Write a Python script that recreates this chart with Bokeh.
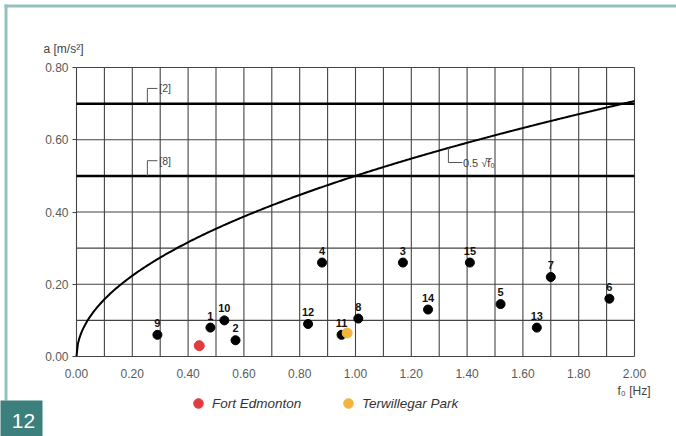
import numpy as np
from bokeh.plotting import figure
from bokeh.models import (Range1d, FixedTicker, Label, BoxAnnotation, Legend,
                          LegendItem, PrintfTickFormatter)
from bokeh.core.properties import value
from bokeh.embed import file_html
from bokeh.resources import INLINE

# ---- data ----
site_ids = ["9", "1", "10", "2", "12", "4", "11", "8", "3", "14", "15", "5", "13", "7", "6"]
site_f0 = [0.29, 0.48, 0.53, 0.57, 0.83, 0.88, 0.95, 1.01, 1.17, 1.26, 1.41, 1.52, 1.65, 1.70, 1.91]
site_acc = [0.06, 0.08, 0.10, 0.045, 0.09, 0.26, 0.06, 0.105, 0.26, 0.13, 0.26, 0.145, 0.08, 0.22, 0.16]

fort_f0 = [0.44]
fort_acc = [0.03]
terw_f0 = [0.97]
terw_acc = [0.065]

limit_ref2 = 0.70   # [2]
limit_ref8 = 0.50   # [8]
curve_coef = 0.5    # 0.5 * sqrt(f0)

x_ticks = [0.0, 0.2, 0.4, 0.6, 0.8, 1.0, 1.2, 1.4, 1.6, 1.8, 2.0]
y_ticks = [0.0, 0.2, 0.4, 0.6, 0.8]
x_grid = [i / 10 for i in range(21)]
y_grid = [i / 10 for i in range(9)]

FONT = "Liberation Sans"
GRID = "#444444"
TEAL = "#3b807d"
TEAL_LIGHT = "#93c1be"

# ---- layout (pixels) ----
W, H = 676, 436
PL, PR, PT, PB = 76, 634, 67, 356          # plot area inside the canvas
sx = (PR - PL) / (x_ticks[-1] - x_ticks[0])
sy = (PB - PT) / (y_ticks[-1] - y_ticks[0])

def dx(px):  # canvas px -> data x
    return x_ticks[0] + (px - PL) / sx

def dy(py):  # canvas px (from top) -> data y
    return y_ticks[-1] - (py - PT) / sy

p = figure(width=W, height=H, output_backend="svg", toolbar_location=None,
           x_range=Range1d(dx(0), dx(W)), y_range=Range1d(dy(H), dy(0)),
           min_border_left=0, min_border_right=0, min_border_top=0, min_border_bottom=0)
p.background_fill_color = "white"
p.border_fill_color = "white"
p.outline_line_color = None
p.grid.visible = False

# axes fixed at the plot-area edges
p.xaxis.fixed_location = y_ticks[0]
p.yaxis.fixed_location = x_ticks[0]
p.xaxis.ticker = FixedTicker(ticks=x_ticks)
p.yaxis.ticker = FixedTicker(ticks=y_ticks)
for ax in (p.xaxis, p.yaxis):
    ax.formatter = PrintfTickFormatter(format="%.2f")
    ax.axis_line_color = None
    ax.minor_tick_line_color = None
    ax.major_label_text_font = FONT
    ax.major_label_text_font_size = "12px"
    ax.major_label_text_color = "#5a5a5a"
p.xaxis.major_tick_line_color = None
p.xaxis.major_label_standoff = 6
p.yaxis.major_tick_line_color = GRID
p.yaxis.major_tick_out = 4
p.yaxis.major_tick_in = 0
p.yaxis.major_label_standoff = 4

# grid of the plot area
n_x, n_y = len(x_grid), len(y_grid)
p.segment(x0=x_grid, y0=[y_grid[0]] * n_x, x1=x_grid, y1=[y_grid[-1]] * n_x,
          line_color=GRID, line_width=1.1)
p.segment(x0=[x_grid[0]] * n_y, y0=y_grid, x1=[x_grid[-1]] * n_y, y1=y_grid,
          line_color=GRID, line_width=1.1)

# limit lines
for lim in (limit_ref2, limit_ref8):
    p.line([x_grid[0], x_grid[-1]], [lim, lim], line_color="black", line_width=2.5)

# 0.5 sqrt(f0) curve
fc = np.linspace(x_grid[0], x_grid[-1], 400)
p.line(fc, curve_coef * np.sqrt(fc), line_color="black", line_width=2)

# bracket annotations
for lim, txt in ((limit_ref2, "[2]"), (limit_ref8, "[8]")):
    top = lim + 0.042
    p.line([0.254, 0.254, 0.29], [lim, top, top], line_color="#555555", line_width=1)
    p.add_layout(Label(x=0.297, y=top, text=txt, text_baseline="middle",
                       text_font=FONT, text_font_size="10.5px", text_color="#444444"))
fa = 1.333
ca = curve_coef * np.sqrt(fa)
p.line([fa, fa, fa + 0.05], [ca, 0.537, 0.537], line_color="#555555", line_width=1)
p.add_layout(Label(x=fa + 0.052, y=0.537, text="0.5 √f\u0305\u2080", text_baseline="middle",
                   text_font=FONT, text_font_size="11px", text_color="#444444"))

# site points
p.scatter(site_f0, site_acc, size=9, color="black")
p.text(x=site_f0, y=site_acc, text=site_ids, text_align="center", text_baseline="middle",
       y_offset=-12, text_font=value(FONT), text_font_size="11px", text_color="#111111",
       text_font_style="bold")
r_fort = p.scatter(fort_f0, fort_acc, size=10, color="#e23b3f")
r_terw = p.scatter(terw_f0, terw_acc, size=10, color="#f5b53c")

# axis titles
p.add_layout(Label(x=dx(43), y=dy(48), text="a [m/s²]", text_baseline="middle",
                   text_font=FONT, text_font_size="12px", text_color="#444444"))
p.add_layout(Label(x=dx(650), y=dy(390), text="f\u2080 [Hz]", text_baseline="middle",
                   text_align="right", text_font=FONT, text_font_size="12px", text_color="#444444"))

# legend
legend = Legend(items=[LegendItem(label="Fort Edmonton", renderers=[r_fort]),
                       LegendItem(label="Terwillegar Park", renderers=[r_terw])],
                orientation="horizontal", location=(186, 21), glyph_width=24, glyph_height=24,
                label_standoff=2, spacing=7, label_width=117, padding=0, margin=0,
                border_line_color=None, background_fill_alpha=0,
                label_text_font=FONT, label_text_font_size="13.5px",
                label_text_font_style="italic", label_text_color="#333333")
p.add_layout(legend, "center")

# frame decoration: teal border and figure badge
p.add_layout(BoxAnnotation(left=dx(4), right=dx(W + 20), top=dy(4), bottom=dy(7),
                           fill_color=TEAL_LIGHT, fill_alpha=1, line_color=None))
p.add_layout(BoxAnnotation(left=dx(4), right=dx(7), top=dy(4), bottom=dy(400),
                           fill_color=TEAL_LIGHT, fill_alpha=1, line_color=None))
p.add_layout(BoxAnnotation(left=dx(-20), right=dx(42), top=dy(400), bottom=dy(H + 20),
                           fill_color=TEAL, fill_alpha=1, line_color=None))
p.add_layout(Label(x=dx(23), y=dy(420), text="12", text_align="center", text_baseline="middle",
                   text_font=FONT, text_font_size="21px", text_color="white"))

open("out.html", "w").write(file_html(p, INLINE))
